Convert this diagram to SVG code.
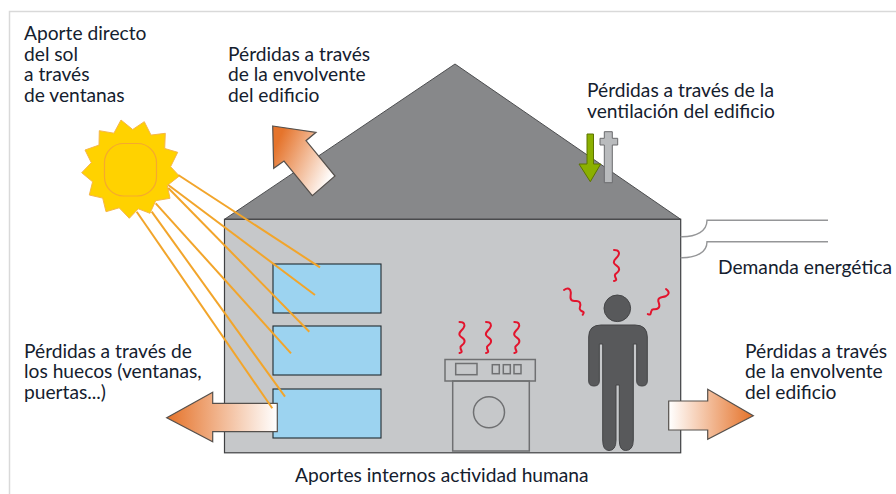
<svg xmlns="http://www.w3.org/2000/svg" width="896" height="494" viewBox="0 0 896 494">
  <style>
    text { font-family: Lato, "Open Sans", "Liberation Sans", sans-serif; font-size: 19.2px; fill: #14202e; }
    .ray { stroke: #f2a52b; stroke-width: 2; fill: none; }
    .pane { fill: #9cd3f0; stroke: #1f2a30; stroke-width: 1.1; }
    .app { fill: none; stroke: #6f7072; stroke-width: 1.5; }
    .heat { fill: none; stroke: #e2142d; stroke-width: 2; stroke-linecap: round; }
    .flow { stroke: #55504c; stroke-width: 1.2; stroke-linejoin: miter; }
    .supply { fill: none; stroke: #959698; stroke-width: 1.4; }
  </style>
  <defs>
    <linearGradient id="lossRoof" gradientUnits="userSpaceOnUse" x1="274" y1="150" x2="332" y2="176">
      <stop offset="0" stop-color="#e5742c"/><stop offset="1" stop-color="#ffffff"/>
    </linearGradient>
    <linearGradient id="lossLeft" gradientUnits="userSpaceOnUse" x1="168" y1="0" x2="277" y2="0">
      <stop offset="0" stop-color="#e5742c"/><stop offset="1" stop-color="#ffffff"/>
    </linearGradient>
    <linearGradient id="lossRight" gradientUnits="userSpaceOnUse" x1="752" y1="0" x2="669" y2="0">
      <stop offset="0" stop-color="#e5742c"/><stop offset="1" stop-color="#ffffff"/>
    </linearGradient>
    <path id="squiggle" class="heat" d="M0 0C5 0 6 3 4 6C2 9 -1 10 0 13C1 16 6 16 5 20C4 24 0 23 1 26C1.500 29 4 30 0 31"/>
  </defs>

  <path d="M896 11.500H9.500V494" fill="none" stroke="#d9d9d9" stroke-width="1.5"/>

  <g id="house">
    <path d="M224.500 219.300L455 64L680.700 219.300Z" fill="#87888a" stroke="#4d4e50" stroke-width="1"/>
    <rect x="224.500" y="219.300" width="456.200" height="233.500" fill="#c6c8ca" stroke="#3f4042" stroke-width="1.2"/>
  </g>

  <g id="windows">
    <rect class="pane" x="273" y="264" width="108" height="49"/>
    <rect class="pane" x="273" y="326" width="108" height="49"/>
    <rect class="pane" x="273" y="389" width="108" height="49"/>
  </g>

  <g id="washer">
    <rect class="app" x="452.700" y="381" width="76.600" height="70"/>
    <rect class="app" x="445" y="359.500" width="90.300" height="21.500"/>
    <rect class="app" x="455.700" y="363.500" width="21.300" height="11.200" stroke="#3a3a3a"/>
    <rect class="app" x="492.300" y="364.700" width="7" height="9"/>
    <rect class="app" x="503.300" y="364.700" width="7" height="9"/>
    <rect class="app" x="514" y="364.700" width="7" height="9"/>
    <circle class="app" cx="489" cy="412.300" r="15.500"/>
    <use href="#squiggle" transform="translate(459.500 322)"/>
    <use href="#squiggle" transform="translate(486 322)"/>
    <use href="#squiggle" transform="translate(514.300 322)"/>
  </g>

  <g id="person">
    <circle cx="617.300" cy="308.300" r="13.300" fill="#58595b" stroke="#444547"/>
    <path fill="#58595b" stroke="#444547" stroke-width="1" d="M601 325H635Q647.300 325 647.300 337V381Q647.300 386 642 386Q636.700 386 636.700 381V344H633.300V440Q633.300 450.500 625.500 450.500Q619.300 450.500 619.300 440V385H616V440Q616 450.500 609 450.500Q602.700 450.500 602.700 440V344H599.300V381Q599.300 386 594 386Q588.700 386 588.700 381V337Q588.700 325 601 325Z"/>
    <use href="#squiggle" transform="translate(614 250)"/>
    <use href="#squiggle" transform="translate(564 290) rotate(-37)"/>
    <use href="#squiggle" transform="translate(666 289) rotate(36)"/>
  </g>

  <g id="ventilation">
    <path d="M600 138.300H604.300V131.700H612.300V138.300H617.700V145H612.300V182.700H604.300V145H600Z" fill="#b9bbbd" stroke="#6a6b6d" stroke-width="1"/>
    <path d="M587 134H593.500V164H600.700L590.300 181.700L579 164H587Z" fill="#8bb000" stroke="#5d7400" stroke-width="1"/>
  </g>

  <g id="sun">
    <polygon fill="#ffd200" stroke="#f6b64a" stroke-width="1" points="121,120 132.700,129.500 144.300,121.700 151,135.100 165.300,133.300 164.700,148.500 177.700,152.300 170.600,166.700 179.300,176 167.300,185.500 170,198.300 155.700,200.700 150,213.300 138.300,208.800 129.300,218.300 119.200,207.800 106,211.700 102.700,198.100 89.300,195 92.600,181.800 81.700,172.700 91.300,162.700 85,150 99,145.100 99.300,130.700 113.900,133.200"/>
    <rect x="104.500" y="143.500" width="52" height="52.500" rx="19" fill="none" stroke="#f5a92e" stroke-width="1.2"/>
  </g>

  <g id="connectors">
    <path class="flow" d="M272.700 126L316 132.300L306 140.700L335 176L312.300 195.700L284 161L273.700 168.300Z" fill="url(#lossRoof)"/>
    <path class="flow" d="M166.700 417.700L212.700 392.300V403.300H277.300V431.700H212.700V441.700Z" fill="url(#lossLeft)"/>
    <path class="flow" d="M668.700 401H707.700V389.300L753.300 415.700L707.700 439.300V430H668.700Z" fill="url(#lossRight)"/>
    <path class="ray" d="M178.300 175L320 267.300"/>
    <path class="ray" d="M168.300 185L315 295"/>
    <path class="ray" d="M168.300 188L309.300 331.700"/>
    <path class="ray" d="M155.700 203.300L291 353.300"/>
    <path class="ray" d="M151.700 211.700L285 396.700"/>
    <path class="ray" d="M136.700 211.700L272.300 408.300"/>
    <path class="supply" d="M828 220.300H707C707 231 697 237 680.700 236.700"/>
    <path class="supply" d="M828 241.700H707C707 252 697 258 680.700 257.700"/>
  </g>

  <g id="labels">
    <text x="24" y="39.500">Aporte directo</text>
    <text x="24" y="60.500">del sol</text>
    <text x="24" y="81">a través</text>
    <text x="24" y="101.500">de ventanas</text>
    <text x="228" y="60.500">Pérdidas a través</text>
    <text x="228" y="81">de la envolvente</text>
    <text x="228" y="101.500">del edificio</text>
    <text x="587" y="96.500">Pérdidas a través de la</text>
    <text x="587" y="117.500">ventilación del edificio</text>
    <text x="718" y="274">Demanda energética</text>
    <text x="24" y="357.500">Pérdidas a través de</text>
    <text x="24" y="378">los huecos (ventanas,</text>
    <text x="24" y="398.500">puertas...)</text>
    <text x="745" y="357.500">Pérdidas a través</text>
    <text x="745" y="378">de la envolvente</text>
    <text x="745" y="398.500">del edificio</text>
    <text x="295" y="482">Aportes internos actividad humana</text>
  </g>
</svg>
